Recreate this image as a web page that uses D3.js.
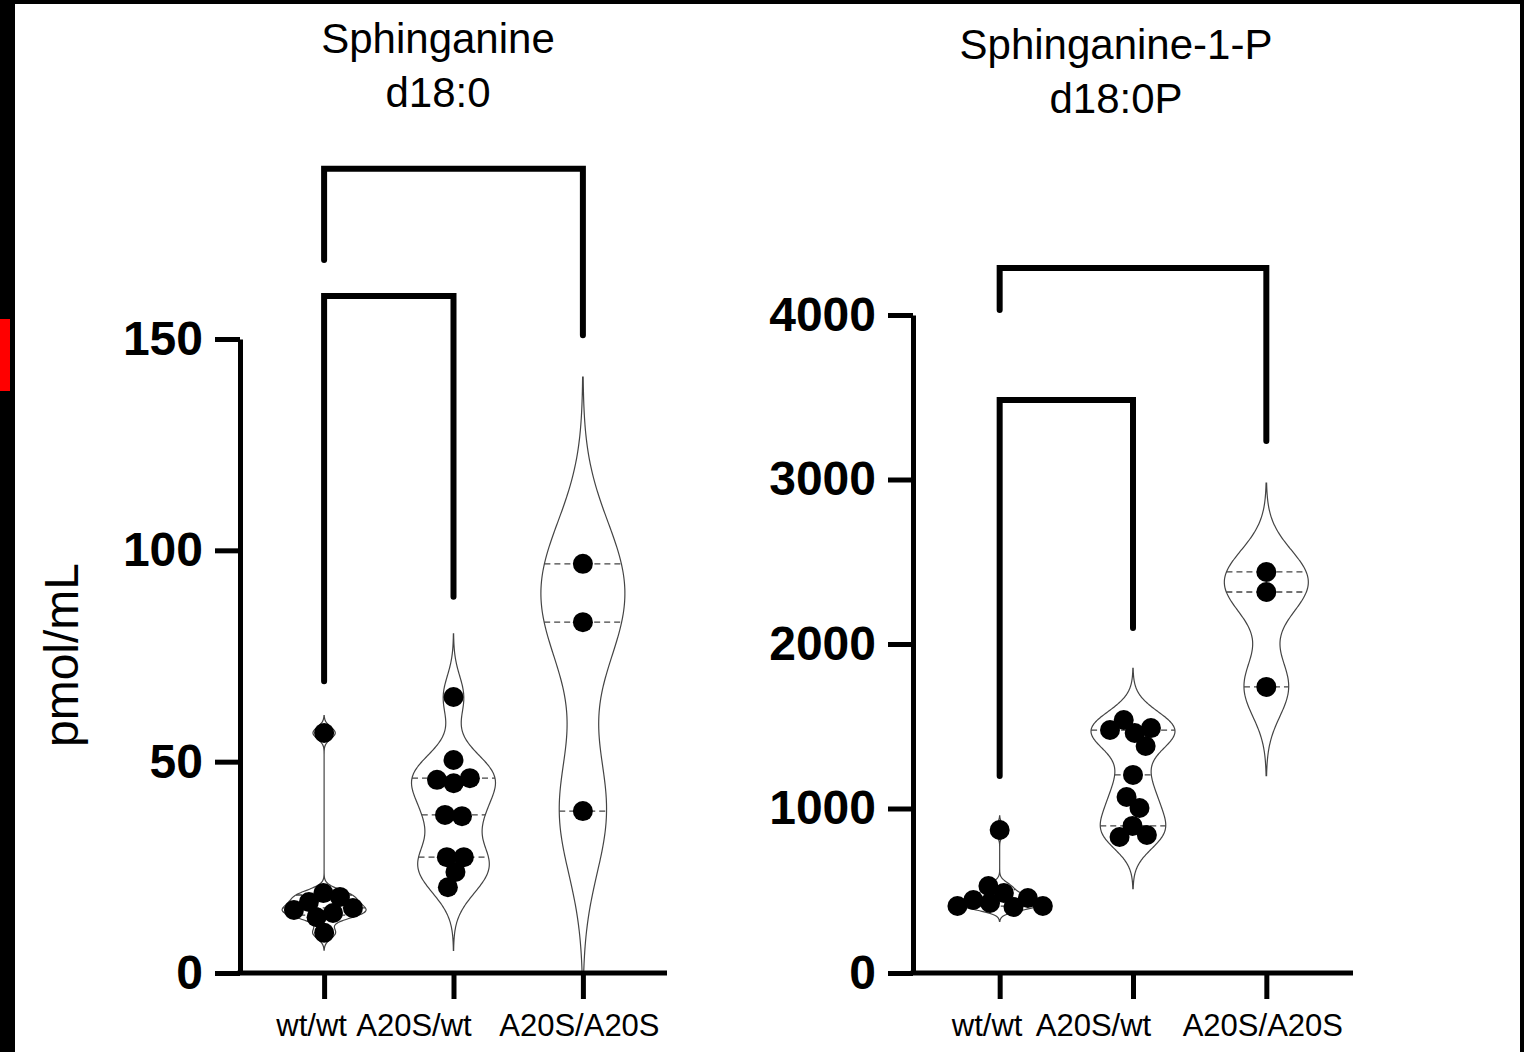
<!DOCTYPE html>
<html>
<head>
<meta charset="utf-8">
<script src="https://cdn.jsdelivr.net/npm/d3@7.9.0/dist/d3.min.js"></script>
<style>
  body { margin: 0; background: #fff; }
  svg { display: block; font-family: 'Liberation Sans', Arial, sans-serif; }
</style>
</head>
<body>
<svg id="chart" width="1524" height="1052"></svg>
<script>
const groups = ['wt/wt', 'A20S/wt', 'A20S/A20S'];

// Sphinganine d18:0, pmol/mL
const saWt = [56.8, 16.8, 18.9, 18.0, 14.2, 13.2, 14.9, 15.4, 9.5];
const saHet = [65.3, 50.4, 44.9, 45.7, 46.1, 37.1, 37.4, 27.4, 27.4, 23.9, 20.3];
const saHom = [96.8, 83.0, 38.3];
const saTicks = [0, 50, 100, 150];
// [group a, group b, bar level, leg end a, leg end b]
const saBrackets = [[0, 2, 190.3, 168.7, 150.9], [0, 1, 160.2, 69, 89]];

// Sphinganine-1-P d18:0P, pmol/mL
const s1pWt = [869, 486, 529, 407, 426, 401, 456, 407, 444];
const s1pHet = [1477, 1538, 1489, 1459, 1380, 1204, 1070, 1003, 827, 839, 894];
const s1pHom = [2438, 2316, 1739];
const s1pTicks = [0, 1000, 2000, 3000, 4000];
const s1pBrackets = [[0, 2, 4286, 4030, 3234], [0, 1, 3483, 1198, 2097]];

const svg = d3.select('#chart');

// frame around the figure
svg.append('rect').attr('x', 0).attr('y', 0).attr('width', 1524).attr('height', 4).attr('fill', '#000');
svg.append('rect').attr('x', 0).attr('y', 0).attr('width', 15).attr('height', 1052).attr('fill', '#000');
svg.append('rect').attr('x', 1520).attr('y', 0).attr('width', 4).attr('height', 1052).attr('fill', '#000');
svg.append('rect').attr('x', 0).attr('y', 319).attr('width', 10).attr('height', 72).attr('fill', '#f00');

// y label
svg.append('text')
    .attr('transform', 'translate(78,655) rotate(-90)')
    .attr('text-anchor', 'middle')
    .style('font-size', '48px')
    .text('pmol/mL');

// quartiles, (n+1)p position like prism
function quart(s, p) {
    const pos = (s.length + 1) * p - 1;
    if (pos <= 0) return s[0];
    if (pos >= s.length - 1) return s[s.length - 1];
    const i = Math.floor(pos);
    return s[i] + (pos - i) * (s[i + 1] - s[i]);
}

// gaussian kde; silverman width, curve cut at 2 silverman widths
function kde(values, yMin) {
    const s = d3.sort(values);
    const n = s.length;
    const iqr = quart(s, 0.75) - quart(s, 0.25);
    const h = 0.9 * Math.min(d3.deviation(s), iqr / 1.34) * Math.pow(n, -0.2);
    const bw = h * 2 / 3;
    const lo = Math.max(yMin, s[0] - 2 * h);
    const hi = s[n - 1] + 2 * h;
    const dens = v => d3.sum(s, x => Math.exp(-0.5 * ((v - x) / bw) ** 2));
    const pts = d3.range(0, 201).map(i => {
        const v = lo + (hi - lo) * i / 200;
        return [v, dens(v)];
    });
    return { pts, dens, max: d3.max(pts, d => d[1]), s };
}

// dots spread sideways, allowed to touch a little like in prism
function swarm(values, cx, y) {
    const nodes = values.map(v => ({ v, x: cx, y: y(v), fy: y(v) }));
    const sim = d3.forceSimulation(nodes)
        .force('x', d3.forceX(cx).strength(0.06))
        .force('collide', d3.forceCollide(8.5))
        .stop();
    for (let i = 0; i < 300; i++) sim.tick();
    return nodes;
}

function panel(cfg) {
    const g = svg.append('g');

    const x = d3.scalePoint()
        .domain(groups)
        .range([cfg.x0, cfg.x1])
        .padding(0.65);

    const y = d3.scaleLinear()
        .domain([0, d3.max(cfg.ticks)])
        .range([973, cfg.yTop]);

    // title
    g.append('text')
        .attr('text-anchor', 'middle')
        .style('font-size', '42px')
        .selectAll('tspan')
        .data(cfg.title)
        .join('tspan')
        .attr('x', cfg.titleX)
        .attr('y', (d, i) => cfg.titleY[i])
        .text(d => d);

    const halfW = 42;

    cfg.series.forEach((vals, gi) => {
        const cx = x(groups[gi]);
        const k = kde(vals, 0);
        const w = d => d / k.max * halfW;

        const area = d3.area()
            .x0(d => cx - w(d[1]))
            .x1(d => cx + w(d[1]))
            .y(d => y(d[0]))
            .curve(d3.curveBasis);

        g.append('path')
            .datum(k.pts)
            .attr('d', area)
            .attr('fill', '#fff')
            .attr('stroke', '#444')
            .attr('stroke-width', 1.2);

        const qs = [0.25, 0.5, 0.75].map(p => quart(k.s, p));
        g.selectAll(null)
            .data(qs)
            .join('line')
            .attr('x1', q => cx - w(k.dens(q)))
            .attr('x2', q => cx + w(k.dens(q)))
            .attr('y1', q => y(q))
            .attr('y2', q => y(q))
            .attr('stroke', '#444')
            .attr('stroke-width', 1.3)
            .attr('stroke-dasharray', '6,4');

        g.selectAll(null)
            .data(swarm(vals, cx, y))
            .join('circle')
            .attr('cx', d => d.x)
            .attr('cy', d => d.y)
            .attr('r', 10)
            .attr('fill', '#000');
    });

    // comparison brackets
    g.selectAll(null)
        .data(cfg.brackets)
        .join('path')
        .attr('d', ([a, b, top, ea, eb]) =>
            `M${x(groups[a])},${y(ea)}V${y(top)}H${x(groups[b])}V${y(eb)}`)
        .attr('fill', 'none')
        .attr('stroke', '#000')
        .attr('stroke-width', 6)
        .attr('stroke-linecap', 'round');

    // axes
    const yAxis = g.append('g')
        .attr('transform', `translate(${cfg.x0},0)`)
        .call(d3.axisLeft(y).tickValues(cfg.ticks).tickFormat(d3.format('d'))
            .tickSize(25).tickSizeOuter(0).tickPadding(12));
    yAxis.selectAll('path, line').attr('stroke', '#000').attr('stroke-width', 5);
    yAxis.selectAll('text')
        .attr('fill', '#000')
        .style('font-size', '48px')
        .style('font-weight', 'bold')
        .style('font-family', "'Liberation Sans', Arial, sans-serif");

    const shift = [-13, -40, -4];
    const xAxis = g.append('g')
        .attr('transform', 'translate(0,973)')
        .call(d3.axisBottom(x).tickSize(26).tickSizeOuter(0));
    xAxis.select('.domain').attr('d', `M${cfg.x0 - 2.5},0H${cfg.x1}`);
    xAxis.selectAll('path, line').attr('stroke', '#000').attr('stroke-width', 5);
    xAxis.selectAll('text')
        .attr('fill', '#000')
        .attr('y', 63)
        .attr('dy', null)
        .attr('dx', (d, i) => shift[i])
        .style('font-size', '31px')
        .style('font-family', "'Liberation Sans', Arial, sans-serif");
}

panel({
    x0: 240, x1: 667, yTop: 339,
    ticks: saTicks,
    series: [saWt, saHet, saHom],
    brackets: saBrackets,
    title: ['Sphinganine', 'd18:0'],
    titleX: 438, titleY: [53, 107]
});

panel({
    x0: 913, x1: 1353, yTop: 315,
    ticks: s1pTicks,
    series: [s1pWt, s1pHet, s1pHom],
    brackets: s1pBrackets,
    title: ['Sphinganine-1-P', 'd18:0P'],
    titleX: 1116, titleY: [59, 113]
});
</script>
</body>
</html>
